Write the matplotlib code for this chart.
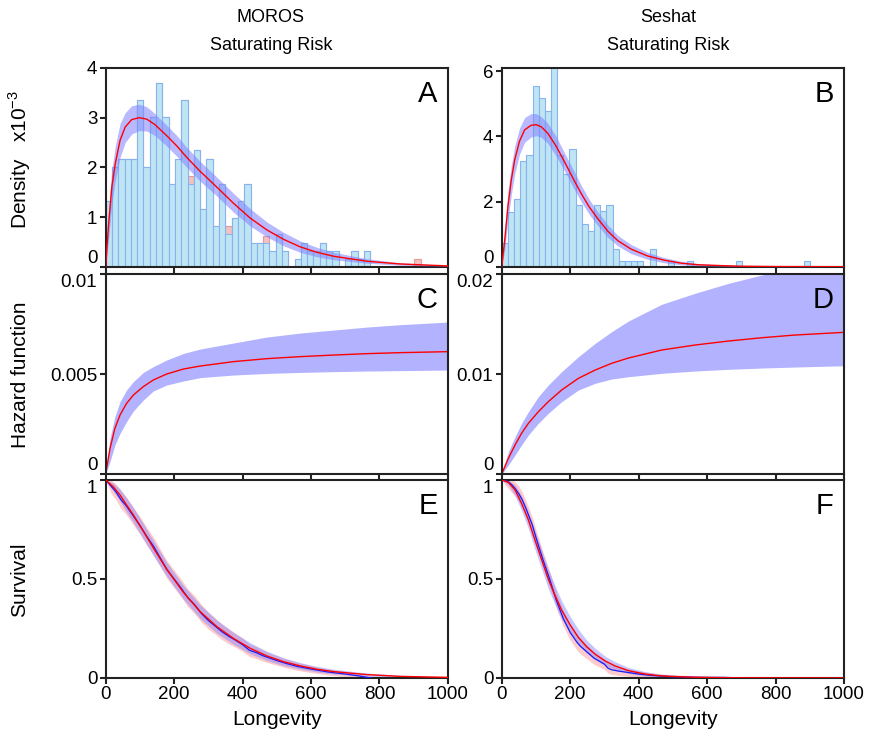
import matplotlib

matplotlib.use("Agg")
import matplotlib.pyplot as plt  # noqa: E402
import numpy as np  # noqa: E402

plt.rcParams["font.family"] = ["Liberation Sans", "DejaVu Sans"]
plt.rcParams["mathtext.fontset"] = "custom"
plt.rcParams["mathtext.rm"] = "Liberation Sans"

# ---------------- data ----------------
# histograms, density x1e-3, one value per bin starting at 0
BIN_A = 18.4
dens_a_obs = [1.33, 2.0, 2.17, 2.17, 2.17, 3.36, 2.0, 3.02, 3.70, 3.02,
              1.66, 2.17, 3.36, 1.66, 2.34, 1.16, 2.17, 0.82, 1.66, 0.65,
              0.99, 1.33, 1.66, 0.48, 0.48, 0.48, 0.32, 0.65, 0.32, 0.0,
              0.15, 0.48, 0.32, 0.32, 0.48, 0.32, 0.32, 0.0, 0.15, 0.32,
              0.15, 0.32, 0.0, 0.0, 0.0, 0.0, 0.0, 0.0, 0.0, 0.0]
dens_a_sim = [1.33, 2.0, 2.17, 2.17, 2.17, 3.36, 2.0, 3.02, 3.70, 3.02,
              1.66, 2.17, 3.36, 1.83, 2.34, 1.16, 2.17, 0.82, 1.66, 0.82,
              0.99, 1.33, 1.66, 0.48, 0.48, 0.62, 0.32, 0.65, 0.32, 0.0,
              0.15, 0.48, 0.32, 0.32, 0.48, 0.32, 0.32, 0.0, 0.15, 0.32,
              0.15, 0.32, 0.0, 0.0, 0.0, 0.0, 0.0, 0.0, 0.0, 0.15]
BIN_B = 18.0
dens_b_obs = [0.72, 1.68, 2.07, 3.23, 3.42, 5.54, 5.17, 4.77, 6.6, 3.42,
              2.85, 3.62, 1.89, 1.32, 1.11, 1.89, 1.70, 1.89, 0.54, 0.16,
              0.16, 0.16, 0.16, 0.0, 0.54, 0.0, 0.0, 0.16, 0.0, 0.0,
              0.16, 0.0, 0.0, 0.0, 0.0, 0.0, 0.0, 0.0, 0.16, 0.0,
              0.0, 0.0, 0.0, 0.0, 0.0, 0.0, 0.0, 0.0, 0.0, 0.16]

# fitted density (x1e-3) with confidence band
t_dens_a = [0, 8, 18, 28, 42, 57, 76, 98, 120, 144, 178, 208, 237, 276, 325,
            373, 422, 471, 520, 568, 617, 666, 763, 860, 1000]
fit_dens_a = [0, 0.8, 1.6, 2.07, 2.54, 2.81, 2.96, 3.0, 2.97, 2.86, 2.64, 2.43,
              2.2, 1.92, 1.6, 1.28, 0.98, 0.74, 0.55, 0.4, 0.29, 0.21, 0.11,
              0.055, 0.015]
hi_dens_a = [0, 1.1, 1.95, 2.42, 2.88, 3.1, 3.24, 3.27, 3.22, 3.08, 2.85, 2.64,
             2.4, 2.12, 1.8, 1.48, 1.17, 0.9, 0.69, 0.52, 0.39, 0.29, 0.16,
             0.08, 0.025]
lo_dens_a = [0, 0.5, 1.25, 1.72, 2.2, 2.5, 2.67, 2.74, 2.73, 2.64, 2.43, 2.22,
             2.0, 1.72, 1.42, 1.1, 0.82, 0.6, 0.42, 0.29, 0.2, 0.14, 0.07,
             0.03, 0.008]

t_dens_b = [0, 8.7, 18, 28, 38, 52, 67, 86, 101, 116, 135, 159, 183, 208, 232,
            256, 281, 310, 339, 378, 426, 475, 523, 572, 650, 700, 800, 1000]
fit_dens_b = [0, 0.8, 1.83, 2.66, 3.28, 3.85, 4.2, 4.34, 4.36, 4.29, 4.09, 3.7,
              3.23, 2.72, 2.25, 1.83, 1.47, 1.09, 0.8, 0.54, 0.33, 0.2, 0.11,
              0.06, 0.03, 0.015, 0.004, 0]
hi_dens_b = [0, 1.15, 2.3, 3.1, 3.7, 4.25, 4.58, 4.7, 4.7, 4.6, 4.4, 4.0, 3.5,
             3.0, 2.5, 2.06, 1.68, 1.28, 0.96, 0.68, 0.44, 0.28, 0.17, 0.1,
             0.05, 0.03, 0.01, 0.002]
lo_dens_b = [0, 0.5, 1.4, 2.2, 2.85, 3.45, 3.82, 3.98, 4.02, 3.97, 3.78, 3.4,
             2.95, 2.45, 2.0, 1.6, 1.26, 0.9, 0.64, 0.4, 0.23, 0.12, 0.06,
             0.03, 0.012, 0.005, 0.001, 0]

# hazard function (x1e-3)
t_haz_c = [0, 12.7, 27, 42, 61, 81, 110, 139, 178, 227, 276, 373, 471, 568,
           666, 763, 861, 1000]
fit_haz_c = [0, 1.28, 2.28, 2.95, 3.53, 3.95, 4.37, 4.7, 5.0, 5.25, 5.4, 5.62,
             5.77, 5.87, 5.95, 6.02, 6.07, 6.12]
hi_haz_c = [0, 1.78, 2.87, 3.62, 4.2, 4.62, 5.08, 5.37, 5.7, 6.03, 6.25, 6.55,
            6.85, 7.05, 7.2, 7.35, 7.47, 7.6]
lo_haz_c = [0, 0.62, 1.45, 2.03, 2.62, 3.15, 3.7, 4.15, 4.45, 4.65, 4.82, 4.95,
            5.03, 5.08, 5.12, 5.15, 5.17, 5.2]

t_haz_d = [0, 19.5, 39, 58, 78, 107, 136, 175, 224, 273, 321, 370, 467, 564,
           662, 759, 856, 1000]
fit_haz_d = [0, 1.57, 2.9, 4.07, 5.07, 6.23, 7.23, 8.4, 9.57, 10.4, 11.07,
             11.6, 12.4, 12.9, 13.3, 13.63, 13.9, 14.17]
hi_haz_d = [0, 2.23, 3.73, 5.07, 6.23, 7.73, 8.9, 10.23, 11.73, 13.07, 14.23,
            15.3, 16.97, 18.07, 19.07, 19.9, 20.6, 21.3]
lo_haz_d = [0, 0.9, 1.9, 2.9, 3.9, 5.07, 6.07, 7.23, 8.4, 9.07, 9.5, 9.73,
            10.07, 10.3, 10.47, 10.6, 10.7, 10.83]

# survival: fitted curve + band, Kaplan-Meier + band
t_surv_e = [0, 22, 42, 61, 81, 110, 139, 178, 227, 276, 325, 373, 422, 471,
            520, 568, 617, 666, 763, 861, 1000]
fit_surv_e = [1.0, 0.966, 0.924, 0.874, 0.823, 0.742, 0.658, 0.55, 0.433,
              0.335, 0.259, 0.2, 0.15, 0.111, 0.082, 0.061, 0.044, 0.032,
              0.017, 0.008, 0.003]
hi_surv_e = [1.0, 0.985, 0.955, 0.91, 0.86, 0.78, 0.695, 0.585, 0.468, 0.37,
             0.292, 0.23, 0.178, 0.135, 0.102, 0.078, 0.058, 0.044, 0.025,
             0.013, 0.005]
lo_surv_e = [1.0, 0.945, 0.893, 0.838, 0.785, 0.703, 0.62, 0.515, 0.398, 0.3,
             0.226, 0.17, 0.122, 0.088, 0.062, 0.044, 0.03, 0.02, 0.009, 0.004,
             0.001]
t_km_e = [0, 15, 30, 45, 60, 80, 100, 120, 140, 160, 180, 200, 220, 240, 260,
          280, 300, 320, 340, 360, 380, 400, 420, 440, 460, 480, 500, 530, 560,
          600, 650, 700, 740, 775]
km_e = [1.0, 0.97, 0.94, 0.9, 0.87, 0.82, 0.77, 0.715, 0.665, 0.605, 0.545,
        0.5, 0.455, 0.405, 0.37, 0.325, 0.29, 0.262, 0.233, 0.21, 0.19, 0.168,
        0.14, 0.128, 0.112, 0.1, 0.088, 0.072, 0.058, 0.045, 0.03, 0.02, 0.01,
        0.0]
hi_km_e = [1.0, 1.0, 0.98, 0.945, 0.915, 0.865, 0.815, 0.76, 0.71, 0.65, 0.59,
           0.545, 0.5, 0.45, 0.415, 0.37, 0.333, 0.303, 0.273, 0.248, 0.226,
           0.202, 0.172, 0.158, 0.14, 0.126, 0.112, 0.094, 0.078, 0.063, 0.045,
           0.033, 0.02, 0.008]
lo_km_e = [1.0, 0.935, 0.9, 0.855, 0.825, 0.775, 0.725, 0.67, 0.62, 0.56, 0.5,
           0.455, 0.41, 0.36, 0.325, 0.28, 0.247, 0.221, 0.193, 0.172, 0.154,
           0.134, 0.108, 0.098, 0.084, 0.074, 0.064, 0.05, 0.038, 0.027, 0.015,
           0.007, 0.0, 0.0]

t_surv_f = [0, 19.5, 39, 58, 78, 97, 117, 136, 156, 175, 200, 224, 248, 273,
            302, 331, 370, 418, 467, 564, 662, 1000]
fit_surv_f = [1.0, 0.988, 0.95, 0.882, 0.798, 0.697, 0.596, 0.5, 0.416, 0.343,
              0.268, 0.205, 0.158, 0.12, 0.086, 0.061, 0.037, 0.02, 0.01,
              0.0035, 0.001, 0.0]
hi_surv_f = [1.0, 0.998, 0.975, 0.92, 0.84, 0.745, 0.645, 0.55, 0.465, 0.39,
             0.31, 0.245, 0.192, 0.15, 0.11, 0.082, 0.053, 0.032, 0.018, 0.007,
             0.003, 0.0005]
lo_surv_f = [1.0, 0.975, 0.922, 0.845, 0.755, 0.65, 0.548, 0.452, 0.37, 0.298,
             0.228, 0.168, 0.126, 0.092, 0.063, 0.042, 0.023, 0.01, 0.004,
             0.001, 0.0, 0.0]
t_km_f = [0, 10, 20, 30, 40, 50, 60, 70, 80, 90, 100, 110, 120, 130, 140, 150,
          160, 170, 180, 190, 200, 210, 220, 230, 240, 250, 260, 270, 280, 290,
          300, 310, 320, 340, 360, 380, 400, 430, 460, 500, 550, 600, 650, 700]
km_f = [1.0, 0.997, 0.99, 0.975, 0.955, 0.93, 0.9, 0.86, 0.815, 0.77, 0.71,
        0.655, 0.6, 0.55, 0.5, 0.445, 0.39, 0.345, 0.3, 0.265, 0.23, 0.205,
        0.18, 0.16, 0.145, 0.13, 0.115, 0.1, 0.09, 0.08, 0.07, 0.05, 0.042,
        0.035, 0.03, 0.025, 0.02, 0.014, 0.01, 0.006, 0.004, 0.003, 0.003, 0.0]
hi_km_f = [1.0, 1.0, 1.0, 1.0, 0.99, 0.97, 0.94, 0.9, 0.855, 0.81, 0.75,
           0.695, 0.64, 0.59, 0.54, 0.485, 0.43, 0.385, 0.34, 0.305, 0.27,
           0.245, 0.22, 0.2, 0.182, 0.165, 0.148, 0.132, 0.12, 0.108, 0.097,
           0.075, 0.066, 0.057, 0.05, 0.043, 0.036, 0.028, 0.022, 0.016, 0.012,
           0.009, 0.008, 0.005]
lo_km_f = [1.0, 0.975, 0.955, 0.935, 0.915, 0.89, 0.86, 0.82, 0.775, 0.73,
           0.67, 0.615, 0.56, 0.51, 0.46, 0.405, 0.35, 0.305, 0.26, 0.225, 0.19,
           0.165, 0.14, 0.122, 0.108, 0.095, 0.082, 0.068, 0.06, 0.052, 0.043,
           0.025, 0.018, 0.013, 0.01, 0.007, 0.005, 0.002, 0.0, 0.0, 0.0, 0.0,
           0.0, 0.0]

# ---------------- styling ----------------
BAND = "#8080ff"
PINK = "#ff9a9a"
FS_TICK = 13.5
FS_LAB = 15


def style(ax, yticks, ylabels, ylim, letter, xlabels=False, va=None):
    ax.set_xlim(0, 1000)
    ax.set_ylim(*ylim)
    ax.set_xticks(np.arange(0, 1001, 200))
    if not xlabels:
        ax.set_xticklabels([])
    else:
        ax.set_xlabel("Longevity", fontsize=FS_LAB, labelpad=5)
    ax.set_yticks(yticks)
    ax.set_yticklabels(ylabels)
    ax.tick_params(direction="out", length=4, width=1.5, labelsize=FS_TICK, pad=2,
                   color="#222222")
    for s in ax.spines.values():
        s.set_linewidth(1.5)
        s.set_color("#222222")
    # nudge end labels away from neighbouring panels
    for lab, v in zip(ax.get_yticklabels(), va or []):
        if v:
            lab.set_va(v)
    ax.text(0.97, 0.94, letter, transform=ax.transAxes, ha="right", va="top",
            fontsize=21)


def density_panel(ax, bw, obs, sim, t, fit, hi, lo):
    edges = np.arange(len(obs)) * bw
    if sim is not None:
        ax.bar(edges, sim, width=bw, align="edge", color="#f2c2c2",
               edgecolor="#e59a9a", lw=0.8, zorder=1)
    ax.bar(edges, obs, width=bw, align="edge", color="#bfe4f4",
           edgecolor="#86b4ee", lw=0.8, zorder=2)
    ax.fill_between(t, lo, hi, color=BAND, alpha=0.55, lw=0, zorder=3)
    ax.plot(t, fit, color="red", lw=1, zorder=4)


def hazard_panel(ax, t, fit, hi, lo):
    ax.fill_between(t, np.array(lo) * 1e-3, np.array(hi) * 1e-3, color=BAND,
                    alpha=0.6, lw=0)
    ax.plot(t, np.array(fit) * 1e-3, color="red", lw=1)


def survival_panel(ax, tk, km, khi, klo, t, fit, hi, lo):
    ax.fill_between(tk, klo, khi, color=PINK, alpha=0.5, lw=0, zorder=1)
    ax.fill_between(t, lo, hi, color=BAND, alpha=0.45, lw=0, zorder=2)
    ax.plot(tk, km, color="#1a1aff", lw=0.9, zorder=3)
    ax.plot(t, fit, color="red", lw=1, zorder=4)


fig = plt.figure(figsize=(8.71, 7.46), dpi=100)
cols = [0.1213, 0.576]
w = 0.393
rows = [(0.6425, 0.2664), (0.3646, 0.268), (0.0912, 0.2654)]

axA = fig.add_axes([cols[0], rows[0][0], w, rows[0][1]])
axB = fig.add_axes([cols[1], rows[0][0], w, rows[0][1]])
axC = fig.add_axes([cols[0], rows[1][0], w, rows[1][1]])
axD = fig.add_axes([cols[1], rows[1][0], w, rows[1][1]])
axE = fig.add_axes([cols[0], rows[2][0], w, rows[2][1]])
axF = fig.add_axes([cols[1], rows[2][0], w, rows[2][1]])

density_panel(axA, BIN_A, dens_a_obs, dens_a_sim, t_dens_a, fit_dens_a,
              hi_dens_a, lo_dens_a)
density_panel(axB, BIN_B, dens_b_obs, None, t_dens_b, fit_dens_b,
              hi_dens_b, lo_dens_b)
hazard_panel(axC, t_haz_c, fit_haz_c, hi_haz_c, lo_haz_c)
hazard_panel(axD, t_haz_d, fit_haz_d, hi_haz_d, lo_haz_d)
survival_panel(axE, t_km_e, km_e, hi_km_e, lo_km_e,
               t_surv_e, fit_surv_e, hi_surv_e, lo_surv_e)
survival_panel(axF, t_km_f, km_f, hi_km_f, lo_km_f,
               t_surv_f, fit_surv_f, hi_surv_f, lo_surv_f)

style(axA, [0, 1, 2, 3, 4], ["0", "1", "2", "3", "4"], (0, 4), "A",
      va=["bottom", None, None, None, None])
style(axB, [0, 2, 4, 6], ["0", "2", "4", "6"], (0, 6.1), "B",
      va=["bottom", None, None, None])
style(axC, [0, 0.005, 0.01], ["0", "0.005", "0.01"], (0, 0.01), "C",
      va=["bottom", None, "top"])
style(axD, [0, 0.01, 0.02], ["0", "0.01", "0.02"], (0, 0.02), "D",
      va=["bottom", None, "top"])
style(axE, [0, 0.5, 1], ["0", "0.5", "1"], (0, 1), "E", xlabels=True,
      va=[None, None, "top"])
style(axF, [0, 0.5, 1], ["0", "0.5", "1"], (0, 1), "F", xlabels=True,
      va=[None, None, "top"])

# column titles
for x, name in [(0.311, "MOROS"), (0.767, "Seshat")]:
    fig.text(x, 1 - 18 / 746, name, ha="center", va="center", fontsize=13)
    fig.text(x, 1 - 45 / 746, "Saturating Risk", ha="center", va="center",
             fontsize=13)

# row labels
fig.text(0.023, 1 - 160 / 746, r"Density   x10$^{\mathregular{-3}}$",
         rotation=90, ha="center", va="center", fontsize=FS_LAB)
fig.text(0.023, 1 - 375 / 746, "Hazard function", rotation=90, ha="center",
         va="center", fontsize=FS_LAB)
fig.text(0.023, 1 - 580 / 746, "Survival", rotation=90, ha="center",
         va="center", fontsize=FS_LAB)

fig.savefig("out.png", dpi=100)
